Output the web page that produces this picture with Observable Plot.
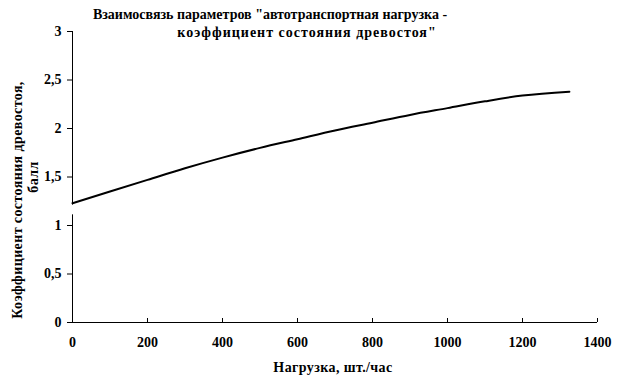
<!DOCTYPE html>
<html>
<head>
<meta charset="utf-8">
<script src="https://cdn.jsdelivr.net/npm/d3@7"></script>
<script src="https://cdn.jsdelivr.net/npm/@observablehq/plot@0.6"></script>
<style>
  html, body { margin: 0; padding: 0; background: #fff; }
  #wrap { position: relative; width: 617px; height: 385px; font-family: "Liberation Serif", "DejaVu Serif", serif; font-weight: bold; color: #000; }
  #wrap svg { position: absolute; left: 0; top: 0; }
  .lbl { position: absolute; white-space: nowrap; transform: translate(-50%, -50%); }
  .rot { transform: translate(-50%, -50%) rotate(-90deg); }
</style>
</head>
<body>
<div id="wrap"></div>
<script>
const titleLines = ["Взаимосвязь параметров \"автотранспортная нагрузка -", "коэффициент состояния древостоя\""];
const xLabel = "Нагрузка, шт./час";
const yLabelLines = ["Коэффициент состояния древостоя,", "балл"];

const loads = [0, 100, 200, 300, 400, 500, 600, 700, 800, 900, 1000, 1100, 1200, 1325];
const coef  = [1.23, 1.35, 1.47, 1.59, 1.70, 1.80, 1.89, 1.98, 2.06, 2.14, 2.21, 2.28, 2.34, 2.38];

const xTicks = [0, 200, 400, 600, 800, 1000, 1200, 1400];
const yTicks = [0, 0.5, 1, 1.5, 2, 2.5, 3];
const yTickLabels = ["0", "0,5", "1", "1,5", "2", "2,5", "3"];
// y-axis line drawn in two pieces (axis break between 1.1 and 1.2)
const yAxisFrom = [0, 1.21];
const yAxisTo   = [1.11, 3];

const data = loads.map((x, i) => ({x, y: coef[i]}));
const axisSegs = yAxisFrom.map((a, i) => ({y1: a, y2: yAxisTo[i]}));

const FONT = "'Liberation Serif', 'DejaVu Serif', serif";

const chart = Plot.plot({
  width: 617,
  height: 385,
  marginLeft: 72,
  marginRight: 20,
  marginTop: 31,
  marginBottom: 63,
  style: {fontFamily: FONT, fontWeight: "bold", fontSize: "14px", background: "#fff", color: "#000"},
  x: {domain: [0, 1400]},
  y: {domain: [0, 3]},
  marks: [
    Plot.axisX({ticks: xTicks, tickSize: -4, tickPadding: 19, label: null, tickFormat: d => String(d)}),
    Plot.axisY({ticks: yTicks, tickSize: 5, tickPadding: 6, label: null, tickFormat: (d, i) => yTickLabels[yTicks.indexOf(d)]}),
    Plot.ruleY([0], {stroke: "#000", strokeWidth: 1}),
    Plot.ruleX(axisSegs, {x: () => 0, y1: "y1", y2: "y2", stroke: "#000", strokeWidth: 1}),
    Plot.line(data, {x: "x", y: "y", stroke: "#000", strokeWidth: 2, curve: "monotone-x"})
  ]
});

const wrap = document.getElementById("wrap");
wrap.appendChild(chart);
chart.querySelectorAll("text").forEach(t => { t.style.fontFamily = FONT; t.style.fontWeight = "bold"; });

function addLabel(text, cx, cy, size, rotate, spacing) {
  const d = document.createElement("div");
  d.className = "lbl" + (rotate ? " rot" : "");
  d.textContent = text;
  d.style.left = cx + "px";
  d.style.top = cy + "px";
  d.style.fontSize = size + "px";
  if (spacing) d.style.letterSpacing = spacing + "px";
  wrap.appendChild(d);
}
addLabel(titleLines[0], 270, 15, 14, false, 0);
addLabel(titleLines[1], 307, 33, 14, false, 1.0);
addLabel(xLabel, 333, 368, 14, false, 0.4);
addLabel(yLabelLines[0], 18, 200, 14, true, 0.4);
addLabel(yLabelLines[1], 34, 177, 14, true, 0.4);
</script>
</body>
</html>
